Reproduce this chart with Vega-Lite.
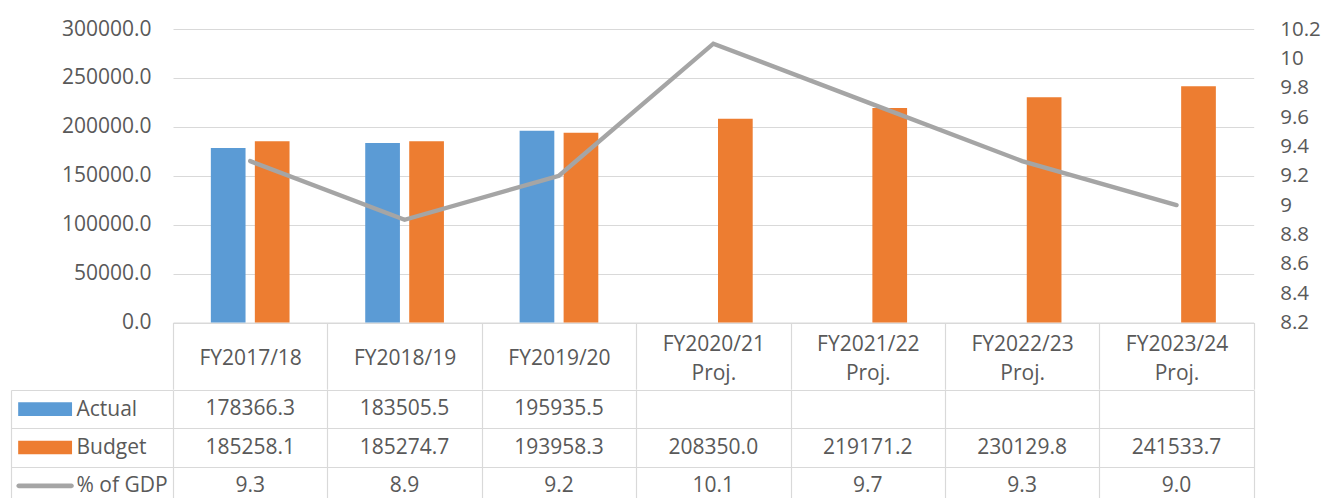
{
  "$schema": "https://vega.github.io/schema/vega-lite/v6.json",
  "padding": {"left": 11, "top": 18, "right": 0, "bottom": 0},
  "config": {
    "view": {"stroke": null},
    "font": "Open Sans",
    "axis": {"labelFont": "Open Sans", "labelColor": "#595959", "labelFontSize": 21, "title": null}
  },
  "datasets": {
    "fy": [
      {"cat": "FY2017/18", "Actual": 178366.3, "Budget": 185258.1, "% of GDP": 9.3},
      {"cat": "FY2018/19", "Actual": 183505.5, "Budget": 185274.7, "% of GDP": 8.9},
      {"cat": "FY2019/20", "Actual": 195935.5, "Budget": 193958.3, "% of GDP": 9.2},
      {"cat": "FY2020/21 Proj.", "Actual": null, "Budget": 208350.0, "% of GDP": 10.1},
      {"cat": "FY2021/22 Proj.", "Actual": null, "Budget": 219171.2, "% of GDP": 9.7},
      {"cat": "FY2022/23 Proj.", "Actual": null, "Budget": 230129.8, "% of GDP": 9.3},
      {"cat": "FY2023/24 Proj.", "Actual": null, "Budget": 241533.7, "% of GDP": 9.0}
    ],
    "rows": [
      {"row": "Actual"},
      {"row": "Budget"},
      {"row": "% of GDP"}
    ]
  },
  "spacing": -11,
  "bounds": "full",
  "vconcat": [
    {
      "spacing": 0,
      "bounds": "flush",
      "hconcat": [
        {
          "width": 161.6,
          "height": 293.5,
          "data": {"values": []},
          "mark": "point",
          "encoding": {}
        },
        {
          "width": 1080.7,
          "height": 293.5,
          "data": {"name": "fy"},
          "layer": [
            {
              "transform": [
                {"fold": ["Actual", "Budget"], "as": ["series", "amount"]},
                {"filter": "isValid(datum.amount)"}
              ],
              "mark": {"type": "bar"},
              "encoding": {
                "x": {
                  "field": "cat", "type": "nominal", "sort": null,
                  "scale": {
                    "domain": ["FY2017/18", "FY2018/19", "FY2019/20", "FY2020/21 Proj.", "FY2021/22 Proj.", "FY2022/23 Proj.", "FY2023/24 Proj."],
                    "paddingInner": 0, "paddingOuter": 0
                  },
                  "axis": {
                    "orient": "bottom",
                    "domain": true, "domainColor": "#d9d9d9", "domainWidth": 1.2,
                    "ticks": true, "tickBand": "extent", "tickSize": 66.7, "tickColor": "#d9d9d9", "tickWidth": 1.2,
                    "grid": false,
                    "labelAngle": 0,
                    "labelExpr": "indexof(datum.label, ' ') >= 0 ? split(datum.label, ' ') : datum.label",
                    "labelBaseline": {"condition": {"test": "indexof(datum.label, ' ') >= 0", "value": "line-bottom"}, "value": "middle"},
                    "labelPadding": -30.4,
                    "labelLineHeight": 28.5,
                    "labelOverlap": false
                  }
                },
                "xOffset": {
                  "field": "series", "type": "nominal",
                  "scale": {"domain": ["Actual", "Budget"], "paddingInner": 0.2114, "paddingOuter": 0.8601}
                },
                "y": {
                  "field": "amount", "type": "quantitative",
                  "scale": {"domain": [0, 300000], "nice": false},
                  "axis": {
                    "orient": "left",
                    "values": [0, 50000, 100000, 150000, 200000, 250000, 300000],
                    "format": ".1f",
                    "domain": false, "ticks": false,
                    "grid": true, "gridColor": "#d9d9d9", "gridWidth": 1.2,
                    "labelPadding": 22
                  }
                },
                "color": {
                  "field": "series", "type": "nominal",
                  "scale": {"domain": ["Actual", "Budget"], "range": ["#5b9bd5", "#ed7d31"]},
                  "legend": null
                }
              }
            },
            {
              "mark": {"type": "line", "color": "#a5a5a5", "strokeWidth": 4.4, "strokeCap": "round", "strokeJoin": "miter"},
              "encoding": {
                "x": {"field": "cat", "type": "nominal", "sort": null},
                "y": {
                  "field": "% of GDP", "type": "quantitative",
                  "scale": {"domain": [8.2, 10.2], "nice": false, "zero": false},
                  "axis": {
                    "orient": "right",
                    "values": [8.2, 8.4, 8.6, 8.8, 9, 9.2, 9.4, 9.6, 9.8, 10, 10.2],
                    "format": "~g",
                    "domain": false, "ticks": false, "grid": false,
                    "labelFontSize": 20.5,
                    "labelPadding": 26
                  }
                }
              }
            }
          ],
          "resolve": {"scale": {"y": "independent"}}
        }
      ]
    },
    {
      "spacing": 0,
      "bounds": "flush",
      "hconcat": [
        {
          "width": 161.6,
          "height": 115,
          "data": {"name": "rows"},
          "layer": [
            {
              "transform": [{"filter": "datum.row != '% of GDP'"}],
              "mark": {"type": "rect", "height": {"band": 0.357}},
              "encoding": {
                "x": {
                  "datum": "swatch", "type": "nominal",
                  "scale": {"domain": ["swatch"], "paddingInner": 0, "paddingOuter": 1.0538, "align": 0.0666},
                  "axis": null
                },
                "y": {
                  "field": "row", "type": "nominal",
                  "scale": {"domain": ["Actual", "Budget", "% of GDP"], "paddingInner": 0, "paddingOuter": 0},
                  "axis": {
                    "orient": "left",
                    "domain": true, "domainColor": "#d9d9d9", "domainWidth": 1.2,
                    "ticks": false,
                    "grid": true, "gridColor": "#d9d9d9", "gridWidth": 1.2, "tickBand": "extent",
                    "labelAlign": "left", "labelBaseline": "middle", "labelPadding": -65,
                    "labelOverlap": false
                  }
                },
                "color": {
                  "field": "row", "type": "nominal",
                  "scale": {"domain": ["Actual", "Budget"], "range": ["#5b9bd5", "#ed7d31"]},
                  "legend": null
                }
              }
            },
            {
              "transform": [{"filter": "datum.row == '% of GDP'"}],
              "mark": {"type": "rect", "height": {"band": 0.12}, "width": {"band": 1.066}, "cornerRadius": 2.3, "color": "#a5a5a5"},
              "encoding": {
                "x": {"datum": "swatch", "type": "nominal"},
                "y": {"field": "row", "type": "nominal"}
              }
            }
          ]
        },
        {
          "width": 1080.7,
          "height": 115,
          "data": {"name": "fy"},
          "transform": [
            {"fold": ["Actual", "Budget", "% of GDP"], "as": ["row", "val"]},
            {"filter": "isValid(datum.val)"}
          ],
          "mark": {"type": "text", "fontSize": 21, "color": "#595959", "baseline": "middle"},
          "encoding": {
            "x": {
              "field": "cat", "type": "nominal", "sort": null,
              "scale": {
                "domain": ["FY2017/18", "FY2018/19", "FY2019/20", "FY2020/21 Proj.", "FY2021/22 Proj.", "FY2022/23 Proj.", "FY2023/24 Proj."],
                "paddingInner": 0, "paddingOuter": 0
              },
              "axis": {
                "orient": "top", "labels": false, "ticks": false, "domain": false,
                "grid": true, "gridColor": "#d9d9d9", "gridWidth": 1.2, "tickBand": "extent"
              }
            },
            "y": {
              "field": "row", "type": "nominal",
              "scale": {"domain": ["Actual", "Budget", "% of GDP"], "paddingInner": 0, "paddingOuter": 0},
              "axis": {
                "labels": false, "ticks": false, "domain": false,
                "grid": true, "gridColor": "#d9d9d9", "gridWidth": 1.2, "tickBand": "extent"
              }
            },
            "text": {"field": "val", "type": "quantitative", "format": ".1f"}
          }
        }
      ]
    }
  ]
}
